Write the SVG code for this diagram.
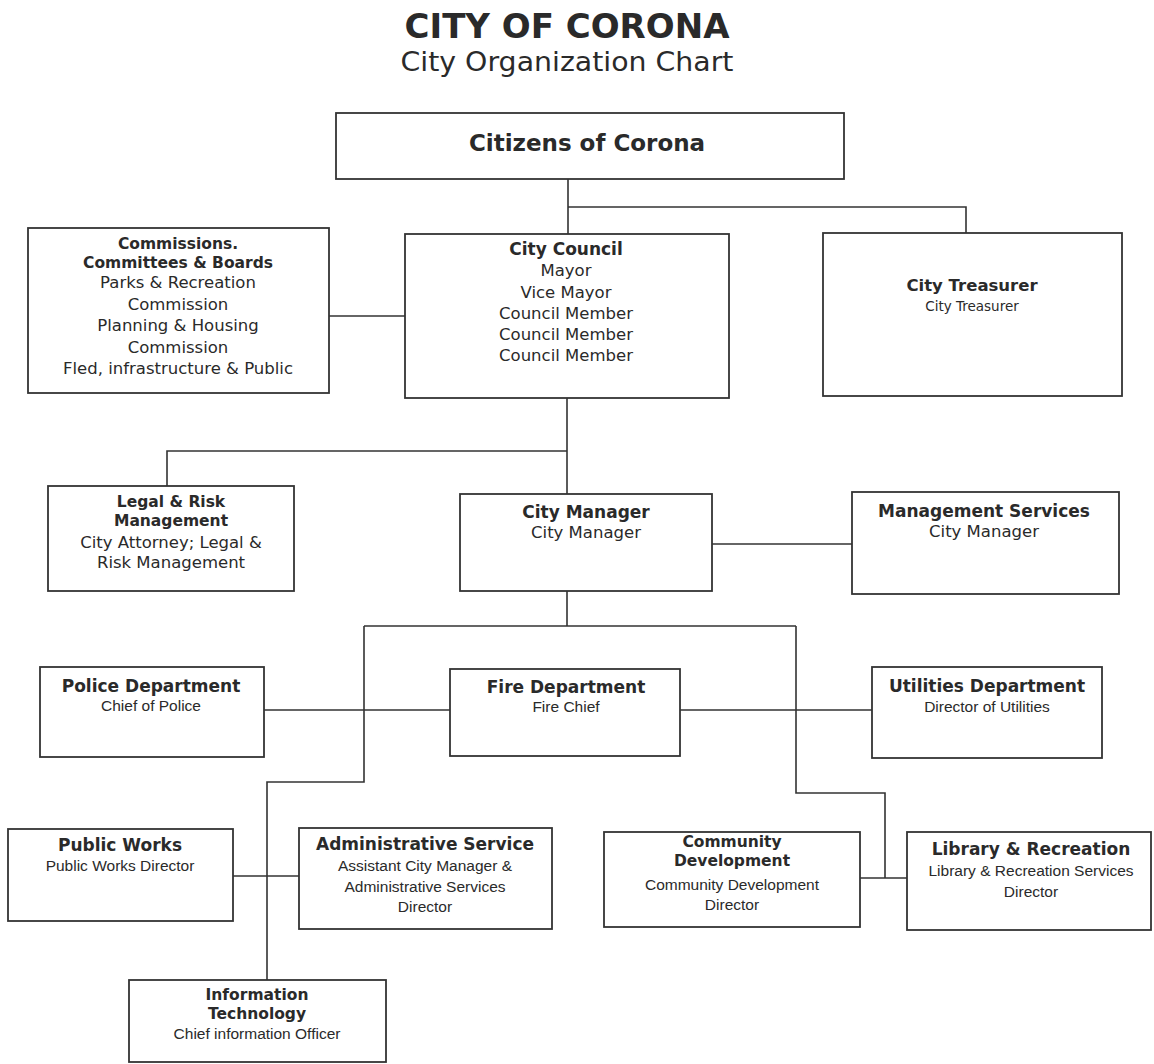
<svg xmlns="http://www.w3.org/2000/svg" width="1154" height="1064" viewBox="0 0 1154 1064">
<style>
.box{fill:#ffffff;stroke:#333333;stroke-width:1.8}
.ln{fill:none;stroke:#333333;stroke-width:1.6}
text{text-anchor:middle;fill:#2a2a2a}
.h{font-family:"DejaVu Sans",sans-serif;font-weight:bold;font-size:17px}
.h2{font-family:"DejaVu Sans",sans-serif;font-weight:bold;font-size:15.5px}
.r{font-family:"DejaVu Sans",sans-serif;font-size:16.5px}
.s{font-family:"Liberation Sans",Arial,sans-serif;font-size:15.5px}
</style>
<rect width="1154" height="1064" fill="#ffffff"/>
<g id="title">
<text x="567" y="38" style="font-family:'DejaVu Sans',sans-serif;font-weight:bold;font-size:34px">CITY OF CORONA</text>
<text x="567" y="71" style="font-family:'DejaVu Sans',sans-serif;font-size:26px" textLength="333" lengthAdjust="spacingAndGlyphs">City Organization Chart</text>
</g>
<g id="connectors">
<path class="ln" d="M568 179V234M568 207H966V233"/>
<path class="ln" d="M329 316H405"/>
<path class="ln" d="M567 398V494M567 451H167V486"/>
<path class="ln" d="M712 544H852"/>
<path class="ln" d="M567 591V626M364 626H796M364 626V782H267V980"/>
<path class="ln" d="M264 710H450M680 710H872"/>
<path class="ln" d="M796 626V793H885V878M860 878H907"/>
<path class="ln" d="M233 876H299"/>
</g>
<g id="citizens">
<rect class="box" x="336" y="113" width="508" height="66"/>
<text x="587" y="151" style="font-family:'DejaVu Sans',sans-serif;font-weight:bold;font-size:23px">Citizens of Corona</text>
</g>
<g id="commissions">
<rect class="box" x="28" y="228" width="301" height="165"/>
<text class="h2" x="178" y="249">Commissions.</text>
<text class="h2" x="178" y="267.5">Committees &amp; Boards</text>
<text class="r" x="178" y="288">Parks &amp; Recreation</text>
<text class="r" x="178" y="310">Commission</text>
<text class="r" x="178" y="331">Planning &amp; Housing</text>
<text class="r" x="178" y="353">Commission</text>
<text class="r" x="178" y="374">Fled, infrastructure &amp; Public</text>
</g>
<g id="council">
<rect class="box" x="405" y="234" width="324" height="164"/>
<text class="h" x="566" y="255">City Council</text>
<text class="r" x="566" y="276">Mayor</text>
<text class="r" x="566" y="298">Vice Mayor</text>
<text class="r" x="566" y="319">Council Member</text>
<text class="r" x="566" y="340">Council Member</text>
<text class="r" x="566" y="361">Council Member</text>
</g>
<g id="treasurer">
<rect class="box" x="823" y="233" width="299" height="163"/>
<text class="h" x="972" y="291" style="font-size:16.5px">City Treasurer</text>
<text class="r" x="972" y="311" style="font-size:13.5px">City Treasurer</text>
</g>
<g id="legal">
<rect class="box" x="48" y="486" width="246" height="105"/>
<text class="h2" x="171" y="507">Legal &amp; Risk</text>
<text class="h2" x="171" y="525.5">Management</text>
<text class="r" x="171" y="548">City Attorney; Legal &amp;</text>
<text class="r" x="171" y="568">Risk Management</text>
</g>
<g id="manager">
<rect class="box" x="460" y="494" width="252" height="97"/>
<text class="h" x="586" y="518">City Manager</text>
<text class="r" x="586" y="538">City Manager</text>
</g>
<g id="mgmt-services">
<rect class="box" x="852" y="492" width="267" height="102"/>
<text class="h" x="984" y="517">Management Services</text>
<text class="r" x="984" y="537">City Manager</text>
</g>
<g id="police">
<rect class="box" x="40" y="667" width="224" height="90"/>
<text class="h" x="151" y="692">Police Department</text>
<text class="s" x="151" y="711">Chief of Police</text>
</g>
<g id="fire">
<rect class="box" x="450" y="669" width="230" height="87"/>
<text class="h" x="566" y="693">Fire Department</text>
<text class="s" x="566" y="712">Fire Chief</text>
</g>
<g id="utilities">
<rect class="box" x="872" y="667" width="230" height="91"/>
<text class="h" x="987" y="692">Utilities Department</text>
<text class="s" x="987" y="712">Director of Utilities</text>
</g>
<g id="public-works">
<rect class="box" x="8" y="829" width="225" height="92"/>
<text class="h" x="120" y="851">Public Works</text>
<text class="s" x="120" y="871">Public Works Director</text>
</g>
<g id="admin-service">
<rect class="box" x="299" y="828" width="253" height="101"/>
<text class="h" x="425" y="850">Administrative Service</text>
<text class="s" x="425" y="871">Assistant City Manager &amp;</text>
<text class="s" x="425" y="892">Administrative Services</text>
<text class="s" x="425" y="912">Director</text>
</g>
<g id="community-dev">
<rect class="box" x="604" y="832" width="256" height="95"/>
<text class="h2" x="732" y="847">Community</text>
<text class="h2" x="732" y="865.5">Development</text>
<text class="s" x="732" y="890">Community Development</text>
<text class="s" x="732" y="910">Director</text>
</g>
<g id="library">
<rect class="box" x="907" y="832" width="244" height="98"/>
<text class="h" x="1031" y="855">Library &amp; Recreation</text>
<text class="s" x="1031" y="876">Library &amp; Recreation Services</text>
<text class="s" x="1031" y="897">Director</text>
</g>
<g id="info-tech">
<rect class="box" x="129" y="980" width="257" height="82"/>
<text class="h2" x="257" y="1000">Information</text>
<text class="h2" x="257" y="1018.5">Technology</text>
<text class="s" x="257" y="1039">Chief information Officer</text>
</g>
</svg>
